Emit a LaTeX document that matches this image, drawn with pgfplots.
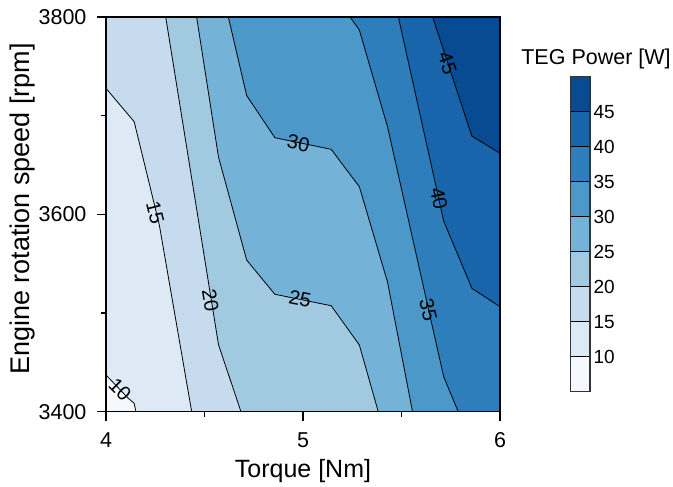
\documentclass[border=0pt]{standalone}
\usepackage{fontspec}
\setmainfont{Liberation Sans}
\usepackage{pgfplots}
\pgfplotsset{compat=1.18}

\definecolor{b1}{HTML}{F5F9FE}
\definecolor{b2}{HTML}{DDEAF6}
\definecolor{b3}{HTML}{C6DBEE}
\definecolor{b4}{HTML}{A1CAE1}
\definecolor{b5}{HTML}{75B2D8}
\definecolor{b6}{HTML}{4B98C9}
\definecolor{b7}{HTML}{2F7EBC}
\definecolor{b8}{HTML}{1865AC}
\definecolor{b9}{HTML}{094B93}

\begin{document}
\begin{tikzpicture}
\useasboundingbox (0,0) rectangle (673pt,487pt);

% contour map
\begin{axis}[
    at={(106pt,75.3pt)}, anchor=south west,
    scale only axis, width=394pt, height=394.7pt,
    xmin=4, xmax=6, ymin=3400, ymax=3800,
    xtick={4,5,6}, minor xtick={4.5,5.5},
    ytick={3400,3600,3800}, minor ytick={3500,3700},
    tick align=outside, tick pos=left,
    major tick length=9pt, minor tick length=5pt,
    tick style={black, line width=1.3pt},
    axis line style={black, line width=1.3pt},
    axis on top,
    /pgf/number format/assume math mode=true,
    /pgf/number format/1000 sep={},
    ticklabel style={font=\fontsize{21.5}{24}\selectfont},
    xticklabel style={yshift=-8pt},
    yticklabel style={xshift=-7pt},
    xlabel={Torque [Nm]},
    ylabel={Engine rotation speed [rpm]},
    every axis x label/.style={at={(axis description cs:0.5,-0.167)}, anchor=base, font=\fontsize{25}{30}\selectfont},
    every axis y label/.style={at={(axis description cs:-0.1947,0.5135)}, anchor=base, rotate=90, font=\fontsize{27}{30}\selectfont},
]
% filled bands, lowest first
\addplot[fill=b1, draw=none] coordinates {(4,3400) (6,3400) (6,3800) (4,3800)};
\addplot[fill=b2, draw=none] coordinates {(4,3437.2) (4.113,3413.6) (4.143,3408.5) (4.152,3400) (6,3400) (6,3800) (4,3800)};
\addplot[fill=b3, draw=none] coordinates {(4,3727.7) (4.143,3693.9) (4.27,3590) (4.435,3400) (6,3400) (6,3800) (4,3800)};
\addplot[fill=b4, draw=none] coordinates {(4.303,3800) (4.571,3468) (4.685,3400) (6,3400) (6,3800)};
\addplot[fill=b5, draw=none] coordinates {(4.460,3800) (4.571,3658.1) (4.714,3553.7) (4.857,3519.0) (5.143,3507.4) (5.286,3467.6) (5.382,3400) (6,3400) (6,3800)};
\addplot[fill=b6, draw=none] coordinates {(4.621,3800) (4.714,3720.4) (4.857,3677.7) (5.143,3665.9) (5.286,3628.0) (5.429,3531.4) (5.556,3400) (6,3400) (6,3800)};
\addplot[fill=b7, draw=none] coordinates {(5.239,3800) (5.286,3786.8) (5.429,3688.8) (5.714,3435.5) (5.788,3400) (6,3400) (6,3800)};
\addplot[fill=b8, draw=none] coordinates {(5.484,3800) (5.714,3593.3) (5.857,3525.1) (6,3506.4) (6,3800)};
\addplot[fill=b9, draw=none] coordinates {(5.658,3800) (5.857,3679.4) (6,3661.9) (6,3800)};

% contour lines
\addplot[black, line width=0.8pt] coordinates {(4,3437.2) (4.113,3413.6) (4.143,3408.5) (4.152,3400)};
\addplot[black, line width=0.8pt] coordinates {(4,3727.7) (4.143,3693.9) (4.27,3590) (4.435,3400)};
\addplot[black, line width=0.8pt] coordinates {(4.303,3800) (4.571,3468) (4.685,3400)};
\addplot[black, line width=0.8pt] coordinates {(4.460,3800) (4.571,3658.1) (4.714,3553.7) (4.857,3519.0) (5.143,3507.4) (5.286,3467.6) (5.382,3400)};
\addplot[black, line width=0.8pt] coordinates {(4.621,3800) (4.714,3720.4) (4.857,3677.7) (5.143,3665.9) (5.286,3628.0) (5.429,3531.4) (5.556,3400)};
\addplot[black, line width=0.8pt] coordinates {(5.239,3800) (5.286,3786.8) (5.429,3688.8) (5.714,3435.5) (5.788,3400)};
\addplot[black, line width=0.8pt] coordinates {(5.484,3800) (5.714,3593.3) (5.857,3525.1) (6,3506.4)};
\addplot[black, line width=0.8pt] coordinates {(5.658,3800) (5.857,3679.4) (6,3661.9)};

% contour labels
\begin{scope}[every node/.style={font=\fontsize{20}{22}\selectfont, inner sep=0pt}]
\node[rotate=-45] at (4.071,3422) {10};
\node[rotate=-76] at (4.25,3602) {15};
\node[rotate=-81] at (4.530,3513) {20};
\node[rotate=-11] at (4.985,3514) {25};
\node[rotate=-11] at (4.977,3672) {30};
\node[rotate=-77] at (5.636,3503) {35};
\node[rotate=-78] at (5.69,3616) {40};
\node[rotate=-72] at (5.733,3753) {45};
\end{scope}
\end{axis}

% colour bar
\begin{axis}[
    at={(570.7pt,95.3pt)}, anchor=south west,
    scale only axis, width=19.3pt, height=315pt,
    xmin=0, xmax=1, ymin=5, ymax=50,
    xtick=\empty, ytick={10,15,...,45},
    yticklabel pos=right, major tick length=0pt,
    /pgf/number format/assume math mode=true,
    ticklabel style={font=\fontsize{19}{22}\selectfont},
    axis line style={draw=black!80, line width=1.2pt},
    axis on top,
]
\addplot[fill=b1, draw=black, line width=0.9pt] coordinates {(0,5) (1,5) (1,10) (0,10) (0,5)};
\addplot[fill=b2, draw=black, line width=0.9pt] coordinates {(0,10) (1,10) (1,15) (0,15) (0,10)};
\addplot[fill=b3, draw=black, line width=0.9pt] coordinates {(0,15) (1,15) (1,20) (0,20) (0,15)};
\addplot[fill=b4, draw=black, line width=0.9pt] coordinates {(0,20) (1,20) (1,25) (0,25) (0,20)};
\addplot[fill=b5, draw=black, line width=0.9pt] coordinates {(0,25) (1,25) (1,30) (0,30) (0,25)};
\addplot[fill=b6, draw=black, line width=0.9pt] coordinates {(0,30) (1,30) (1,35) (0,35) (0,30)};
\addplot[fill=b7, draw=black, line width=0.9pt] coordinates {(0,35) (1,35) (1,40) (0,40) (0,35)};
\addplot[fill=b8, draw=black, line width=0.9pt] coordinates {(0,40) (1,40) (1,45) (0,45) (0,40)};
\addplot[fill=b9, draw=black, line width=0.9pt] coordinates {(0,45) (1,45) (1,50) (0,50) (0,45)};
\end{axis}

\node[anchor=base, font=\fontsize{21.5}{24}\selectfont] at (596pt,422pt) {TEG Power [W]};
\end{tikzpicture}
\end{document}
